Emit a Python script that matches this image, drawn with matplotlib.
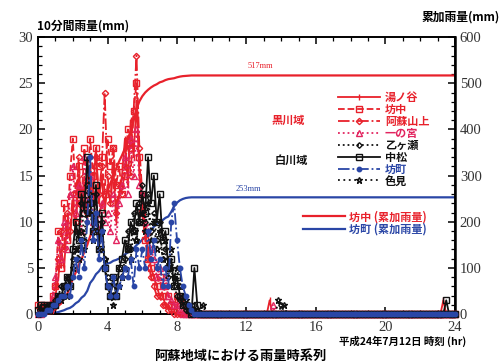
import matplotlib.pyplot as plt
import numpy as np
from matplotlib.lines import Line2D
from matplotlib.ticker import MultipleLocator

plt.rcParams['font.family'] = ['Noto Sans CJK JP', 'DejaVu Sans']

# 10分間雨量 (mm)  0:00〜9:50 の値、以降は 0
stations = ['湯ノ谷', '坊中', '阿蘇山上', '一の宮', '乙ヶ瀬', '中松', '坊町', '色見']

yunotani = [0, 0.5, 0.5, 1, 1, 1, 2, 4, 7, 5, 10, 8,
            12, 9, 15, 11, 14, 10, 16, 13, 18, 12, 15, 11,
            14, 12, 16, 10, 13, 15, 19, 14, 21, 17, 23, 15,
            12, 9, 7, 5, 4, 3, 2, 2, 1, 1, 0.5, 0.5,
            0.5, 0, 0, 0, 0, 0]
bochu = [1, 1, 0.5, 1, 0.5, 2, 3, 9, 5, 12, 8, 15,
         19, 13, 16, 12, 18, 14, 19, 15, 18, 16, 17, 13,
         19, 16, 18, 14, 16, 13, 15, 20, 18, 22, 25, 17,
         11, 8, 6, 5, 4, 3, 4, 2, 3, 2, 1, 1,
         2, 1.5, 1, 0.5, 0.5, 0.5]
asosanjo = [0, 0.5, 1, 0.5, 1, 1.5, 3, 6, 9, 7, 11, 9,
            13, 10, 17, 12, 15, 11, 14, 12, 17, 13, 16, 24,
            15, 12, 18, 11, 14, 13, 16, 19, 15, 22, 28, 18,
            13, 9, 6, 4, 3, 2, 2, 1, 1, 0.5, 0.5, 0]
ichinomiya = [0, 0, 0.5, 0.5, 1, 2, 4, 8, 6, 10, 7, 13,
              16, 11, 14, 9, 17, 12, 15, 10, 13, 9, 12, 10,
              11, 9, 13, 8, 12, 14, 17, 13, 19, 15, 20, 14,
              13, 10, 9, 7, 6, 4, 5, 3, 4, 2, 1.5, 1,
              1, 0.5, 0, 0]
otogase = [0, 0, 0.5, 0.5, 1, 1, 1.5, 2, 3, 2, 4, 3,
           6, 9, 7, 12, 8, 14, 11, 9, 13, 8, 10, 6,
           4, 3, 2, 3, 5, 4, 6, 9, 7, 11, 8, 12,
           14, 10, 13, 9, 11, 8, 10, 6, 7, 4, 5, 3,
           2, 1.5, 1, 0.5, 0.5, 0, 1, 0.5]
nakamatsu = [0.5, 1, 1, 0.5, 1, 1, 1, 2, 2, 3, 4, 3,
             7, 10, 8, 13, 11, 17, 12, 9, 14, 7, 11, 5,
             3, 2, 4, 2, 5, 6, 8, 7, 10, 9, 12, 10,
             13, 11, 17, 12, 15, 10, 13, 8, 9, 5, 6, 3,
             4, 2, 1, 1, 0.5, 0, 5, 1]
bomachi = [0, 0, 0, 0.5, 0.5, 1, 1, 1.5, 2, 2, 3, 2,
           4, 6, 4, 8, 5, 10, 17, 8, 11, 6, 9, 5,
           3, 2, 4, 2, 3, 4, 5, 4, 6, 3, 7, 5,
           7, 5, 9, 6, 8, 5, 6, 3, 5, 3, 10, 12,
           8, 5, 3, 2, 1, 0.5]
shikimi = [0, 0.5, 0.5, 1, 0.5, 1, 1, 2, 1.5, 3, 2, 4,
           5, 7, 6, 9, 7, 11, 13, 8, 10, 7, 9, 6,
           3, 2, 1, 2, 3, 4, 5, 7, 6, 9, 8, 10,
           11, 9, 12, 8, 10, 7, 9, 6, 8, 5, 7, 4,
           5, 3, 2, 1.5, 1, 0.5, 0.5, 0, 0, 1]

# 午後の小さな降雨 (時刻index, mm)
late_rain = {
    '湯ノ谷': [(80, 1.5), (140, 1.5)],
    '一の宮': [(81, 1)],
    '乙ヶ瀬': [(84, 1)],
    '中松': [(141, 1.5)],
    '色見': [(83, 1.5), (85, 1)],
}

n = 145
t_hr = np.arange(n) / 6


def full_series(vals, extra=()):
    r = np.zeros(n)
    r[:len(vals)] = vals
    for i, v in extra:
        r[i] = v
    return r


raw = [yunotani, bochu, asosanjo, ichinomiya, otogase, nakamatsu, bomachi, shikimi]
rain = {s: full_series(v, late_rain.get(s, ())) for s, v in zip(stations, raw)}

red = '#e8212b'
pink = '#e2245f'
blue = '#2a46a6'
black = '#111111'

styles = {
    '湯ノ谷': dict(color=red, ls='-', marker='|', ms=5, mfc=red),
    '坊中': dict(color=red, ls='--', marker='s', ms=3.8, mfc='none'),
    '阿蘇山上': dict(color=red, ls='-.', marker='D', ms=3.2, mfc='none'),
    '一の宮': dict(color=pink, ls=':', marker='^', ms=3.8, mfc='none'),
    '乙ヶ瀬': dict(color=black, ls=':', marker='D', ms=2.8, mfc='none'),
    '中松': dict(color=black, ls='-', marker='s', ms=3.8, mfc='none'),
    '坊町': dict(color=blue, ls='-.', marker='o', ms=3.2, mfc=blue),
    '色見': dict(color=black, ls=(0, (1, 2)), marker='*', ms=4.5, mfc='none'),
}
# 坊町を最前面に
draw_order = {'坊町': 4}

fig = plt.figure(figsize=(5.01, 3.64), dpi=100)
ax = fig.add_axes([0.076, 0.137, 0.832, 0.761])
ax2 = ax.twinx()

# 累加雨量
cum_bochu = np.cumsum(rain['坊中'])
cum_bomachi = np.cumsum(rain['坊町'])
ax2.plot(t_hr, cum_bochu, color=red, lw=1.6)
ax2.plot(t_hr, cum_bomachi, color=blue, lw=1.6)
ax2.text(12.8, cum_bochu[-1] + 12, f'{cum_bochu[-1]:.0f}mm', color=red,
         fontsize=6, family='Liberation Serif', ha='center', va='bottom')
ax2.text(12.1, cum_bomachi[-1] + 10, f'{cum_bomachi[-1]:.0f}mm', color=blue,
         fontsize=6, family='Liberation Serif', ha='center', va='bottom')

handles = []
for s in stations:
    st = styles[s]
    ax.plot(t_hr, rain[s], lw=1.3, mew=1.0, clip_on=False,
            zorder=draw_order.get(s, 3), **st)
    handles.append(Line2D([], [], lw=1.3, mew=1.0, **st))

ax.set_zorder(ax2.get_zorder() + 1)
ax.patch.set_visible(False)

ax.set_xlim(0, 24)
ax.set_ylim(0, 30)
ax2.set_ylim(0, 600)
ax.xaxis.set_major_locator(MultipleLocator(4))
ax.xaxis.set_minor_locator(MultipleLocator(1))
ax.yaxis.set_major_locator(MultipleLocator(5))
ax.yaxis.set_minor_locator(MultipleLocator(1))
ax2.yaxis.set_major_locator(MultipleLocator(100))
ax2.yaxis.set_minor_locator(MultipleLocator(20))

for a in (ax, ax2):
    a.tick_params(which='both', direction='in', labelsize=10.5,
                  labelcolor='#333333', labelfontfamily='Liberation Serif')
    a.tick_params(which='major', length=5, width=1.1)
    a.tick_params(which='minor', length=3, width=0.9)
    for sp in a.spines.values():
        sp.set_linewidth(1.2)
ax.tick_params(which='both', top=True, right=False)
ax.tick_params(axis='x', pad=5)
ax2.spines['right'].set_linewidth(1.8)

# 凡例
labels_color = [red, red, red, pink, black, black, blue, black]
leg = ax.legend(handles, stations, loc='upper left', bbox_to_anchor=(0.72, 0.805),
                frameon=False, fontsize=8, handlelength=3.8, handletextpad=0.4,
                labelspacing=-0.1, borderaxespad=0, borderpad=0)
for txt, c in zip(leg.get_texts(), labels_color):
    txt.set_color(c)
    txt.set_fontweight('bold')

cum_handles = [Line2D([], [], color=red, lw=1.6), Line2D([], [], color=blue, lw=1.6)]
leg2 = ax2.legend(cum_handles, ['坊中 (累加雨量)', '坊町 (累加雨量)'], loc='upper left',
                  bbox_to_anchor=(0.635, 0.375), frameon=False, fontsize=8,
                  handlelength=3.8, handletextpad=0.4, labelspacing=-0.05,
                  borderaxespad=0, borderpad=0)
for txt, c in zip(leg2.get_texts(), [red, blue]):
    txt.set_color(c)
    txt.set_fontweight('bold')

ax.text(14.4, 21.0, '黒川域', color=red, fontsize=8, fontweight='bold', ha='center', va='center')
ax.text(14.6, 16.7, '白川域', color=black, fontsize=8, fontweight='bold', ha='center', va='center')

fig.text(0.074, 0.912, '10分間雨量(mm)', fontsize=8.5, fontweight='bold', ha='left', va='bottom')
fig.text(0.998, 0.952, '累加雨量(mm)', fontsize=8.5, fontweight='bold', ha='right', va='center')
fig.text(0.93, 0.062, '平成24年7月12日 時刻 (hr)', fontsize=7.5, fontweight='bold',
         ha='right', va='center')
fig.text(0.48, 0.022, '阿蘇地域における雨量時系列', fontsize=9.5, fontweight='bold',
         ha='center', va='center')

fig.savefig('out.png', dpi=100)
